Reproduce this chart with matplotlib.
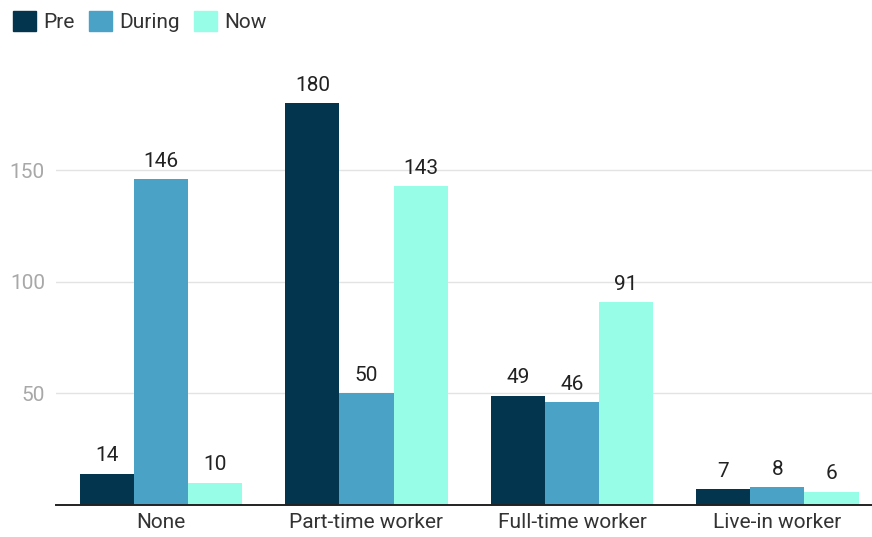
import matplotlib
matplotlib.use('Agg')
import numpy as np
import matplotlib.pyplot as plt
from matplotlib.patches import Patch

categories = ['None', 'Part-time worker', 'Full-time worker', 'Live-in worker']
series_names = ['Pre', 'During', 'Now']
pre = [14, 180, 49, 7]
during = [146, 50, 46, 8]
now = [10, 143, 91, 6]
colors = ['#03354e', '#4aa3c7', '#98fde6']

plt.rcParams['font.family'] = ['Roboto', 'DejaVu Sans']

fig = plt.figure(figsize=(8.72, 5.37), dpi=100)
ax = fig.add_axes([0.0642, 0.0596, 0.9358, 0.81])

x = np.arange(len(categories))
width = 0.263
for i, (vals, name) in enumerate(zip([pre, during, now], series_names)):
    pos = x + (i - 1) * width
    bars = ax.bar(pos, vals, width, color=colors[i], label=name, zorder=3)
    for b, v in zip(bars, vals):
        ax.annotate(str(v), (b.get_x() + b.get_width() / 2, v),
                    xytext=(0, 6), textcoords='offset points',
                    ha='center', va='bottom', fontsize=15, color='#222222')

ax.set_xlim(-0.511, 3.46)
ax.set_ylim(0, 195)
ax.set_yticks([50, 100, 150])
ax.set_xticks(x)
ax.set_xticklabels(categories)
ax.tick_params(axis='y', length=0, labelsize=15, labelcolor='#a8a8a8', pad=8)
ax.tick_params(axis='x', length=0, labelsize=15, labelcolor='#333333', pad=6)
ax.grid(axis='y', color='#e3e3e3', linewidth=1, zorder=0)
for s in ['top', 'right', 'left']:
    ax.spines[s].set_visible(False)
ax.spines['bottom'].set_color('#222222')
ax.spines['bottom'].set_linewidth(1.4)
ax.spines['bottom'].set_zorder(4)

# legend row at the top left
handles = [Patch(color=c) for c in colors]
fig.legend(handles, series_names, loc='upper left', bbox_to_anchor=(-0.007, 1.015),
           ncol=3, frameon=False, fontsize=15, handlelength=1.1, handleheight=1.1,
           handletextpad=0.35, columnspacing=0.7, labelcolor='#333333')

fig.savefig('out.png', dpi=100)
